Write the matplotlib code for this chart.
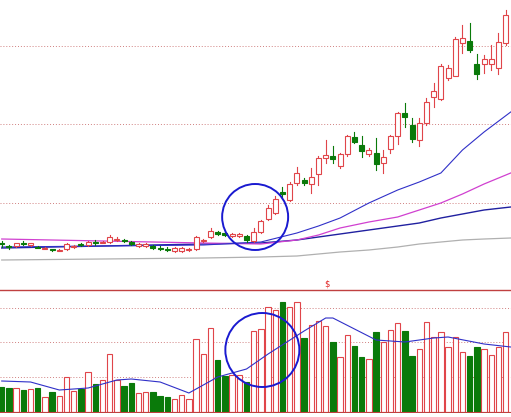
import matplotlib
matplotlib.use('Agg')
import matplotlib.pyplot as plt
from matplotlib.patches import Rectangle, Ellipse
import numpy as np

# candle data (open, close, high, low) - price units
opens = [37, 34, 34, 37.5, 35, 33.5, 31.5, 31, 29.5, 31, 33, 36.5, 35, 38, 37.5, 38, 40, 40.5, 38.5, 34, 34.5,
         34, 32, 31.5, 29, 29, 30, 31, 39, 43, 48, 47, 44, 44, 44, 39, 48, 61, 67, 88, 80, 97, 100, 96, 106,
         122, 124, 114, 126, 143, 135, 126, 127, 117, 131, 144, 167, 155, 140, 157, 183, 181, 202, 204, 237,
         239, 216, 216, 216, 212, 237]
closes = [36, 33, 37, 36.5, 37, 32.5, 32.5, 30, 30.5, 36, 34, 35, 38, 37, 38.5, 43, 41, 39, 36, 36, 36,
          32.5, 31, 30.5, 32, 32, 31, 43, 40, 49, 46, 45, 46, 46, 40, 48, 59, 72, 81, 86, 96, 107, 97, 103,
          122, 125, 121, 126, 144, 138, 129, 130, 116, 123, 144, 167, 163, 141, 157, 178, 189, 214, 212, 241,
          242, 230, 206, 221, 221, 238, 265]
highs = [39, 35, 37, 39, 37, 34, 33, 31.5, 31, 37, 35, 37, 39, 40, 39, 45, 43, 41, 39, 37, 37,
         35, 34, 33, 33, 33, 32, 44, 41, 52, 49, 48, 47, 47, 45, 52, 60, 75, 84, 93, 98, 113, 102, 112, 124,
         140, 134, 127, 145, 148, 144, 132, 142, 130, 145, 168, 177, 162, 162, 182, 197, 216, 215, 243, 255,
         257, 226, 225, 235, 247, 270]
lows = [33, 31, 33, 35, 34, 32, 31, 29, 29, 30, 32, 34, 34, 35, 37, 37, 39, 38, 35, 33, 33,
        31, 30, 29, 28, 28, 29, 30, 38, 42, 45, 44, 43, 43, 38, 38, 47, 60, 66, 83, 79, 95, 95, 87, 95,
        117, 117, 112, 124, 137, 123, 124, 110, 107, 127, 136, 153, 138, 134, 155, 173, 180, 200, 204, 227,
        228, 201, 207, 210, 206, 235]

volumes = [25.3, 23.7, 23.7, 22, 23, 24.3, 14.7, 19.7, 16, 35.3, 21.3, 23, 39.7, 27.7, 32, 58, 32, 26,
           29.3, 18.7, 20.3, 19.7, 16, 15.3, 13, 17, 13, 72.7, 58, 83.7, 52, 36, 37, 36.7, 30.3, 81, 82.7,
           104.7, 102, 110, 104.7, 109.7, 73.7, 87, 91.3, 86, 70.3, 54.7, 77, 66, 54.7, 52.7, 79.7, 70.3,
           82, 88.7, 81.3, 56, 63, 90.3, 75.3, 79.7, 64.7, 74.7, 59.7, 56.3, 64.7, 63, 57, 65.3, 79.7]

# moving averages, read at selected bar positions
ma_idx = [0, 14, 28, 36, 41, 44, 47, 51, 55, 58, 61, 64, 67, 70.7]
ma_fast = [33, 34, 35, 38, 47, 54, 62, 77, 90, 98, 107, 130, 148, 168]
ma_mid = [41, 39, 37, 36, 40, 45, 52, 58, 63, 70, 77, 86, 96, 107]
ma_slow = [32, 34, 36, 37, 40, 43, 46, 50, 54, 57, 62, 66, 70, 73]
ma_long = [20, 21, 22, 23, 24, 26, 28, 30, 33, 36, 38, 40, 41, 42]

vol_ma_idx = [0, 4, 8, 12, 16, 18, 22, 26, 30, 34, 37, 42, 45, 46, 52, 56, 60, 62, 67, 70.7]
vol_ma = [31, 30, 22, 24, 32, 33, 30, 19, 35, 43, 58, 81, 94, 94, 72, 70, 74, 75, 68, 65]

grid_price = [77, 156, 234]
grid_vol = [35, 70, 104]

RED = '#e0454a'
GREEN = '#0a7a0a'
GRID = '#d08080'

fig = plt.figure(figsize=(5.11, 4.17), dpi=100)
ax = fig.add_axes([0, 1 - 284 / 417, 1, 284 / 417])
axv = fig.add_axes([0, 1 - 413 / 417, 1, 124 / 417])

n = len(opens)

for i in range(n):
    o, c, h, l = opens[i], closes[i], highs[i], lows[i]
    up = c >= o
    col = RED if up else GREEN
    lo_body, hi_body = min(o, c), max(o, c)
    ax.plot([i, i], [hi_body, h], color=col, lw=0.8, zorder=2)
    ax.plot([i, i], [l, lo_body], color=col, lw=0.8, zorder=2)
    ax.add_patch(Rectangle((i - 0.34, lo_body), 0.68, max(hi_body - lo_body, 0.8),
                           facecolor='white' if up else GREEN, edgecolor=col, lw=0.8, zorder=3))

ax.plot(ma_idx, ma_long, color='#b0b0b0', lw=0.9, zorder=1)
ax.plot(ma_idx, ma_slow, color='#2020a0', lw=1.0, zorder=1)
ax.plot(ma_idx, ma_mid, color='#d040d0', lw=0.9, zorder=1)
ax.plot(ma_idx, ma_fast, color='#3030c8', lw=0.8, zorder=1)

for g in grid_price:
    ax.axhline(g, color=GRID, lw=0.7, ls=(0, (1, 2)), zorder=0)

ax.add_patch(Ellipse((35.2, 63), 66 / 7.2, 66, fill=False, edgecolor='#1a1ad0', lw=1.4, zorder=5))

ax.set_xlim(-0.24, 70.74)
ax.set_ylim(-4, 280)
ax.axis('off')

for i in range(n):
    up = closes[i] >= opens[i]
    if up:
        axv.add_patch(Rectangle((i - 0.38, 0), 0.76, volumes[i], facecolor='white', edgecolor=RED, lw=0.8))
    else:
        axv.add_patch(Rectangle((i - 0.38, 0), 0.76, volumes[i], facecolor=GREEN, edgecolor=GREEN, lw=0.8))

axv.plot(vol_ma_idx, vol_ma, color='#3030c8', lw=0.8)
for g in grid_vol:
    axv.axhline(g, color=GRID, lw=0.7, ls=(0, (1, 2)), zorder=0)
axv.axhline(122.5, color='#c04040', lw=1.0)
axv.axhline(0, color='#c04040', lw=0.8)
axv.text(45.2, 124, '$', color='#e02020', fontsize=6, ha='center', va='bottom', clip_on=False)
axv.add_patch(Ellipse((36.2, 62), 74 / 7.2, 74, fill=False, edgecolor='#1a1ad0', lw=1.4, zorder=5))

axv.set_xlim(-0.24, 70.74)
axv.set_ylim(-1, 123)
axv.axis('off')

fig.savefig('out.png', dpi=100, facecolor='white')
